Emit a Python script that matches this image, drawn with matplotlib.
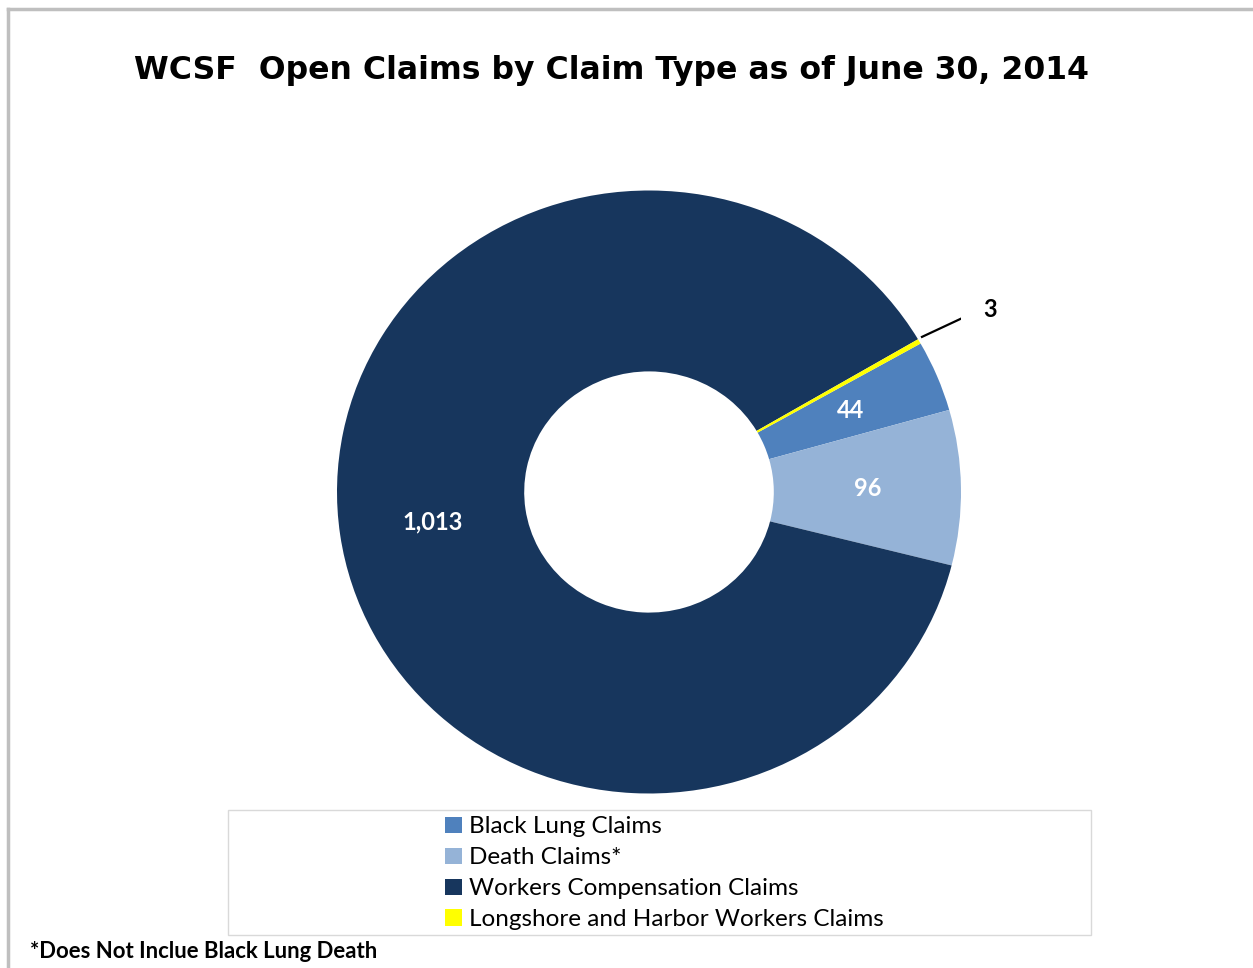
import matplotlib.pyplot as plt
from matplotlib.patches import Patch, Rectangle
from matplotlib.lines import Line2D
import numpy as np

labels = ['Black Lung Claims', 'Death Claims*', 'Workers Compensation Claims',
          'Longshore and Harbor Workers Claims']
values = [44, 96, 1013, 3]
colors = ['#4f81bd', '#95b3d7', '#17365d', '#ffff00']
value_text = ['44', '96', '1,013', '3']

W, H = 1253, 968
fig = plt.figure(figsize=(W / 100, H / 100), dpi=100)
fig.patch.set_facecolor('white')

# chart-area border (only left and top edges visible)
fig.add_artist(Line2D([7.5 / W, 7.5 / W], [0, 1 - 8.5 / H], color='#bfbfbf', lw=2.5))
fig.add_artist(Line2D([7.5 / W, 1], [1 - 8.5 / H, 1 - 8.5 / H], color='#bfbfbf', lw=2.5))

fig.text(612 / W, 1 - 71 / H, 'WCSF  Open Claims by Claim Type as of June 30, 2014',
         ha='center', va='center', fontsize=22.7, fontweight='bold', family='DejaVu Sans')

# donut
cx, cy, rx, ry = 649, 492, 312, 301.5
ax = fig.add_axes([(cx - rx) / W, (H - cy - ry) / H, 2 * rx / W, 2 * ry / H])
start = 29.5
wedges, _ = ax.pie(values, colors=colors, startangle=start, counterclock=False,
                   radius=1, wedgeprops=dict(width=0.6, linewidth=0))
ax.set_aspect('auto')
ax.set_xlim(-1, 1)
ax.set_ylim(-1, 1)
ax.axis('off')

total = sum(values)
ang = start
for i, v in enumerate(values):
    span = 360 * v / total
    mid = np.deg2rad(ang - span / 2)
    ang -= span
    if v < 10:
        x0, y0 = np.cos(mid), np.sin(mid)
        ax.plot([x0 * 1.01, x0 * 1.165], [y0 * 1.03, y0 * 1.16], color='black', lw=1.6)
        ax.text(x0 * 1.235, y0 * 1.215, value_text[i], ha='left', va='center',
                fontsize=17, fontweight='bold', family='Lato', color='black')
    else:
        ax.text(0.7 * np.cos(mid), 0.7 * np.sin(mid), value_text[i], ha='center', va='center',
                fontsize=17, fontweight='bold', family='Lato', color='white')

# legend box
fig.add_artist(Rectangle((228 / W, 1 - 935 / H), (1091 - 228) / W, (935 - 810) / H,
                         transform=fig.transFigure, fill=False, edgecolor='#d9d9d9', lw=1))
handles = [Patch(facecolor=c, edgecolor='none') for c in colors]
fig.legend(handles, labels, loc='upper left', bbox_to_anchor=(426 / W, 1 - 797 / H),
           frameon=False, prop=dict(family='Lato', size=17.5), handlelength=0.68,
           handleheight=0.68, handletextpad=0.28, labelspacing=0.41, borderpad=0.3)

fig.text(30 / W, 1 - 952 / H, '*Does Not Inclue Black Lung Death', ha='left', va='center',
         fontsize=15.9, fontweight='bold', family='Lato')

fig.savefig('out.png', dpi=100, facecolor='white')
